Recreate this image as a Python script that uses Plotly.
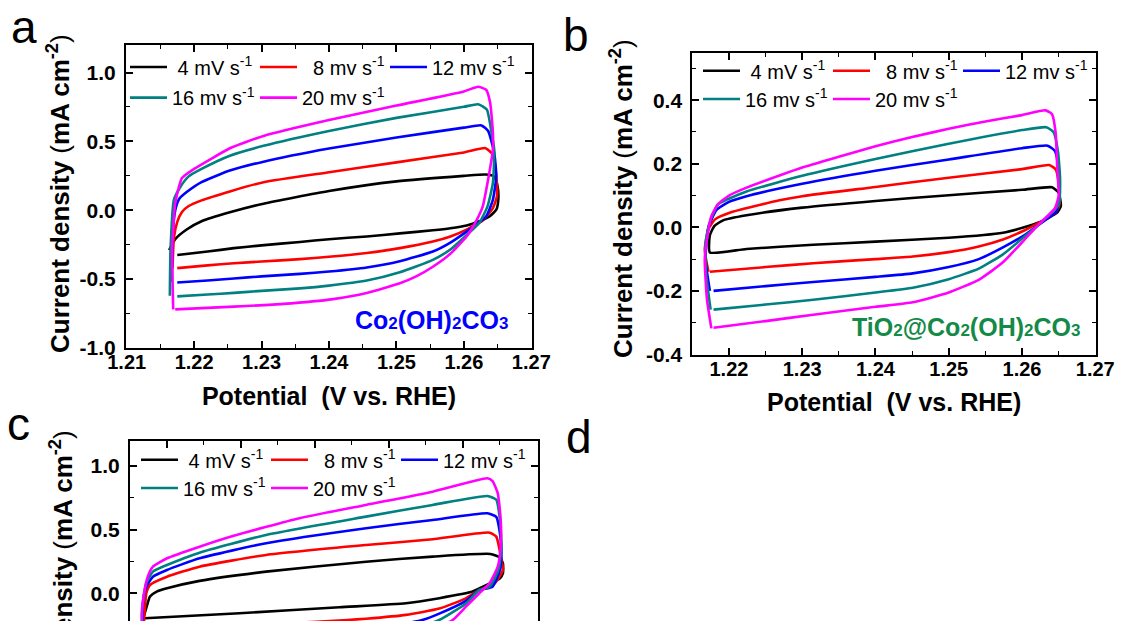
import plotly.graph_objects as go

W, H = 1122, 621

# ---------------- data (V vs RHE, mA cm^-2) ----------------
series_names = ["\u00a04 mV s<sup>-1</sup>", "\u00a0\u00a08 mv s<sup>-1</sup>", "12 mv s<sup>-1</sup>",
                "16 mv s<sup>-1</sup>", "20 mv s<sup>-1</sup>"]
series_colors = ["#000000", "#FF0000", "#0000FF", "#008080", "#FF00FF"]

# Panel a: Co2(OH)2CO3
A4_V = [1.2163, 1.2172, 1.2189, 1.2211, 1.2253, 1.2303, 1.2400, 1.2500, 1.2600, 1.2632, 1.2645, 1.2650, 1.2651, 1.2648,
        1.2638, 1.2620, 1.2604, 1.2580, 1.2554, 1.2505, 1.2456, 1.2400, 1.2357, 1.2300, 1.2259, 1.2220, 1.2175]
A4_J = [-0.29, -0.21, -0.14, -0.08, -0.015, 0.048, 0.14, 0.21, 0.25, 0.26, 0.246, 0.173, 0.076, 0.004,
        -0.045, -0.085, -0.11, -0.13, -0.145, -0.168, -0.19, -0.21, -0.23, -0.255, -0.275, -0.30, -0.325]
A8_V = [1.2168, 1.2170, 1.2175, 1.2182, 1.2192, 1.2211, 1.2253, 1.2303, 1.2400, 1.2500, 1.2600, 1.2632, 1.2643, 1.2648,
        1.2649, 1.2643, 1.2628, 1.2613, 1.2604, 1.2580, 1.2554, 1.2505, 1.2456, 1.2400, 1.2357, 1.2300, 1.2259,
        1.2220, 1.2175]
A8_J = [-0.42, -0.20, -0.084, -0.012, 0.031, 0.072, 0.137, 0.204, 0.276, 0.348, 0.420, 0.451, 0.404, 0.246,
        0.10, 0.016, -0.075, -0.115, -0.14, -0.19, -0.227, -0.275, -0.31, -0.338, -0.355, -0.372, -0.385,
        -0.40, -0.42]
A12_V = [1.2167, 1.2168, 1.2172, 1.2178, 1.2189, 1.2211, 1.2253, 1.2303, 1.2400, 1.2500, 1.2600, 1.2626, 1.2636, 1.2645,
         1.2648, 1.2643, 1.2633, 1.2618, 1.2604, 1.2580, 1.2554, 1.2505, 1.2456, 1.2400, 1.2357, 1.2300, 1.2259,
         1.2220, 1.2175]
A12_J = [-0.52, -0.20, 0.0, 0.084, 0.132, 0.204, 0.288, 0.353, 0.448, 0.528, 0.600, 0.616, 0.576, 0.416,
         0.246, 0.076, -0.045, -0.105, -0.155, -0.235, -0.30, -0.37, -0.415, -0.445, -0.462, -0.48, -0.495,
         -0.51, -0.525]
A16_V = [1.2164, 1.2165, 1.2170, 1.2180, 1.2192, 1.2211, 1.2253, 1.2303, 1.2400, 1.2500, 1.2600, 1.2621, 1.2634, 1.2641,
         1.2645, 1.2643, 1.2635, 1.2623, 1.2604, 1.2580, 1.2554, 1.2505, 1.2456, 1.2400, 1.2357, 1.2300, 1.2259,
         1.2220, 1.2175]
A16_J = [-0.62, -0.29, 0.076, 0.173, 0.246, 0.300, 0.396, 0.468, 0.576, 0.671, 0.751, 0.770, 0.731, 0.564,
         0.44, 0.198, 0.028, -0.09, -0.18, -0.285, -0.36, -0.45, -0.51, -0.547, -0.567, -0.585, -0.600,
         -0.612, -0.625]
A20_V = [1.2169, 1.21675, 1.2172, 1.2182, 1.2200, 1.2224, 1.2253, 1.2303, 1.2400, 1.2500, 1.2600, 1.2621, 1.2633, 1.2639,
         1.2643, 1.2643, 1.2635, 1.2628, 1.2618, 1.2604, 1.2579, 1.2554, 1.2530, 1.2505, 1.2456, 1.2406, 1.2332,
         1.2259, 1.2172]
A20_J = [-0.72, -0.287, 0.052, 0.234, 0.30, 0.37, 0.45, 0.54, 0.655, 0.760, 0.863, 0.897, 0.875, 0.779,
         0.564, 0.44, 0.198, 0.028, -0.08, -0.19, -0.32, -0.41, -0.478, -0.53, -0.600, -0.645, -0.68,
         -0.70, -0.72]

# Panel b: TiO2@Co2(OH)2CO3
B4_V = [1.2174, 1.2174, 1.2180, 1.2192, 1.2224, 1.2300, 1.2400, 1.2500, 1.2600, 1.2641, 1.2650, 1.2653, 1.2648,
        1.2623, 1.2603, 1.2574, 1.2500, 1.2400, 1.2315, 1.2224, 1.2174]
B4_J = [-0.079, -0.025, 0.004, 0.022, 0.038, 0.062, 0.083, 0.101, 0.118, 0.126, 0.109, 0.067, 0.046,
        0.015, 0.0, -0.017, -0.033, -0.045, -0.055, -0.068, -0.079]
B8_V = [1.2172, 1.2167, 1.2172, 1.2181, 1.2201, 1.2269, 1.2300, 1.2400, 1.2500, 1.2600, 1.2637, 1.2646, 1.2650,
        1.2651, 1.2646, 1.2619, 1.2603, 1.2574, 1.2541, 1.2500, 1.2451, 1.2400, 1.2315, 1.2250, 1.2174]
B8_J = [-0.140, -0.07, -0.006, 0.025, 0.046, 0.085, 0.098, 0.127, 0.156, 0.183, 0.196, 0.182, 0.14,
        0.07, 0.046, 0.009, -0.01, -0.038, -0.06, -0.078, -0.092, -0.10, -0.113, -0.125, -0.140]
B12_V = [1.2174, 1.2168, 1.2172, 1.2183, 1.2200, 1.2224, 1.2300, 1.2400, 1.2500, 1.2600, 1.2635, 1.2645, 1.2650,
         1.2651, 1.2647, 1.2621, 1.2603, 1.2574, 1.2541, 1.2500, 1.2451, 1.2400, 1.2315, 1.2250, 1.2179]
B12_J = [-0.200, -0.10, 0.0, 0.055, 0.080, 0.098, 0.137, 0.178, 0.2135, 0.249, 0.257, 0.24, 0.18,
         0.10, 0.05, 0.005, -0.025, -0.063, -0.10, -0.125, -0.145, -0.156, -0.172, -0.185, -0.200]
B16_V = [1.2175, 1.2169, 1.2168, 1.2173, 1.2185, 1.2200, 1.2224, 1.2300, 1.2400, 1.2500, 1.2600, 1.2633, 1.2643,
         1.2649, 1.2652, 1.2650, 1.2621, 1.2603, 1.2574, 1.2541, 1.2500, 1.2451, 1.2400, 1.2315, 1.2250, 1.2179]
B16_J = [-0.259, -0.15, -0.05, 0.01, 0.072, 0.09, 0.113, 0.162, 0.215, 0.263, 0.306, 0.315, 0.30,
         0.24, 0.15, 0.07, 0.005, -0.03, -0.085, -0.13, -0.163, -0.19, -0.205, -0.228, -0.243, -0.259]
B20_V = [1.2176, 1.2170, 1.2167, 1.2170, 1.2176, 1.2185, 1.2200, 1.2224, 1.2269, 1.2300, 1.2350, 1.2400, 1.2450,
         1.2500, 1.2550, 1.2600, 1.2632, 1.2641, 1.2646, 1.2648, 1.2650, 1.2645, 1.2621, 1.2603, 1.2574, 1.2541,
         1.2500, 1.2451, 1.2400, 1.2315, 1.2250, 1.2179]
B20_J = [-0.318, -0.226, -0.10, -0.038, 0.035, 0.072, 0.10, 0.125, 0.163, 0.188, 0.222, 0.255, 0.284,
         0.31, 0.333, 0.353, 0.368, 0.356, 0.296, 0.192, 0.10, 0.06, 0.005, -0.04, -0.11, -0.165,
         -0.205, -0.236, -0.25, -0.275, -0.295, -0.316]

# Panel c
C4_V = [1.2168, 1.21725, 1.2177, 1.2186, 1.2200, 1.2244, 1.2334, 1.2469, 1.2559, 1.2637, 1.2650, 1.2654, 1.2654,
        1.2650, 1.2627, 1.2613, 1.2568, 1.2523, 1.2433, 1.2298, 1.2170]
C4_J = [-0.196, -0.105, -0.026, 0.013, 0.039, 0.097, 0.170, 0.248, 0.288, 0.309, 0.28, 0.236, 0.157,
        0.118, 0.052, 0.013, -0.039, -0.079, -0.11, -0.157, -0.196]
C8_V = [1.2172, 1.2169, 1.2170, 1.2172, 1.2177, 1.2200, 1.2244, 1.2334, 1.2469, 1.2559, 1.2636, 1.2645, 1.2652,
        1.2654, 1.2643, 1.2622, 1.2604, 1.2568, 1.2523, 1.2469, 1.2444, 1.2350, 1.2250, 1.2172]
C8_J = [-0.29, -0.21, -0.131, 0.0, 0.065, 0.13, 0.209, 0.301, 0.379, 0.424, 0.476, 0.445, 0.262,
        0.183, 0.079, 0.026, -0.04, -0.12, -0.17, -0.20, -0.21, -0.24, -0.27, -0.29]
C12_V = [1.2170, 1.2167, 1.2168, 1.2172, 1.2181, 1.2200, 1.2244, 1.2334, 1.2469, 1.2559, 1.2633, 1.2645, 1.2650,
         1.2652, 1.2650, 1.2640, 1.2622, 1.2604, 1.2568, 1.2545, 1.2480, 1.2350, 1.2172]
C12_J = [-0.38, -0.2, -0.05, 0.05, 0.13, 0.183, 0.275, 0.393, 0.511, 0.576, 0.628, 0.60, 0.471,
         0.314, 0.183, 0.052, 0.026, -0.06, -0.16, -0.21, -0.28, -0.33, -0.38]
C16_V = [1.2170, 1.2166, 1.2168, 1.2172, 1.2181, 1.2200, 1.2244, 1.2334, 1.2469, 1.2559, 1.2633, 1.2645, 1.2650,
         1.2652, 1.2648, 1.2636, 1.2622, 1.2604, 1.2568, 1.2520, 1.2400, 1.2172]
C16_J = [-0.45, -0.2, -0.05, 0.08, 0.170, 0.222, 0.319, 0.458, 0.602, 0.694, 0.764, 0.735, 0.576,
         0.366, 0.183, 0.052, 0.026, -0.08, -0.21, -0.30, -0.38, -0.45]
C20_V = [1.2170, 1.2166, 1.2169, 1.2174, 1.2181, 1.2200, 1.2244, 1.2289, 1.2379, 1.2469, 1.2559, 1.2633, 1.2640,
         1.2647, 1.2651, 1.2651, 1.2647, 1.2636, 1.2622, 1.2604, 1.2586, 1.2530, 1.2400, 1.2172]
C20_J = [-0.53, -0.157, 0.0, 0.13, 0.209, 0.275, 0.366, 0.450, 0.589, 0.694, 0.798, 0.903, 0.88,
         0.786, 0.576, 0.366, 0.209, 0.079, 0.0, -0.105, -0.21, -0.35, -0.46, -0.53]

A_V = [A4_V, A8_V, A12_V, A16_V, A20_V]
A_J = [A4_J, A8_J, A12_J, A16_J, A20_J]
B_V = [B4_V, B8_V, B12_V, B16_V, B20_V]
B_J = [B4_J, B8_J, B12_J, B16_J, B20_J]
C_V = [C4_V, C8_V, C12_V, C16_V, C20_V]
C_J = [C4_J, C8_J, C12_J, C16_J, C20_J]

x_ticks = [1.21, 1.22, 1.23, 1.24, 1.25, 1.26, 1.27]
x_ticktext = ["1.21", "1.22", "1.23", "1.24", "1.25", "1.26", "1.27"]
ya_ticks = [-1.0, -0.5, 0.0, 0.5, 1.0]
ya_ticktext = ["-1.0", "-0.5", "0.0", "0.5", "1.0"]
yb_ticks = [-0.4, -0.2, 0.0, 0.2, 0.4]
yb_ticktext = ["-0.4", "-0.2", "0.0", "0.2", "0.4"]

# ---------------- figure ----------------
FONT = "Liberation Sans, Arial, sans-serif"
fig = go.Figure()

def px_x(p):
    return p / W

def px_y(p):
    return 1 - p / H

panels = [("x", "y", A_V, A_J, ("legend", "legend2")),
          ("x2", "y2", B_V, B_J, ("legend3", "legend4")),
          ("x3", "y3", C_V, C_J, ("legend5", "legend6"))]
for xa, ya, VV, JJ, legs in panels:
    for i in range(5):
        fig.add_trace(go.Scatter(
            x=VV[i], y=JJ[i], mode="lines", name=series_names[i], xaxis=xa, yaxis=ya,
            line=dict(color=series_colors[i], width=2.6, shape="spline", smoothing=0.5),
            legend=legs[0] if i < 3 else legs[1], hoverinfo="skip"))

xtickfont = dict(family=FONT, size=20, color="black", weight="bold")
ytickfont = dict(family=FONT, size=21, color="black", weight="bold")
titlefont = dict(family=FONT, size=26, color="black")
xtitlefont = dict(family=FONT, size=25, color="black")

def xaxis(dom, rng, anchor, show_labels=True, side="bottom"):
    return dict(domain=dom, range=rng, anchor=anchor, side=side, automargin=False,
                showline=True, linecolor="black", linewidth=2, mirror="allticks",
                ticks="inside", ticklen=7, tickwidth=1.6, tickcolor="black",
                tickvals=x_ticks, ticktext=x_ticktext, showticklabels=show_labels,
                tickfont=xtickfont, showgrid=False, zeroline=False, ticklabelstandoff=-5,
                minor=dict(ticks="inside", ticklen=4, tickwidth=1.4, tickcolor="black", dtick=0.005,
                           tick0=1.21, showgrid=False))

def yaxis(dom, rng, anchor, tv, tt, mdt):
    return dict(domain=dom, range=rng, anchor=anchor, automargin=False,
                showline=True, linecolor="black", linewidth=2, mirror="allticks",
                ticks="inside", ticklen=7, tickwidth=1.6, tickcolor="black",
                tickvals=tv, ticktext=tt, tickfont=ytickfont, showgrid=False, zeroline=False,
                ticklabelstandoff=4,
                minor=dict(ticks="inside", ticklen=4, tickwidth=1.4, tickcolor="black", dtick=mdt,
                           tick0=0, showgrid=False))

ytitle = "<b>Current density </b>(<b>mA cm<sup>-2</sup></b>)"
xtitle = "<b>Potential  (V vs. RHE)</b>"

xa = xaxis([px_x(126), px_x(532)], [1.2099, 1.2701], "y")
xa["title"] = dict(text=xtitle, font=xtitlefont, standoff=15)
xb = xaxis([px_x(692.3), px_x(1096)], [1.215, 1.2701], "y2")
xb["title"] = dict(text=xtitle, font=xtitlefont, standoff=15)
xc = xaxis([px_x(130), px_x(537.7)], [1.215, 1.2701], "y3", show_labels=False, side="top")
xc["mirror"] = False

ya = yaxis([px_y(348), px_y(45)], [-1.0001, 1.2], "x", ya_ticks, ya_ticktext, 0.25)
yb = yaxis([px_y(354.5), px_y(52.5)], [-0.4001, 0.55], "x2", yb_ticks, yb_ticktext, 0.1)
yc = yaxis([0, px_y(440.5)], [-0.218, 1.2], "x3", ya_ticks, ya_ticktext, 0.25)

def legend(xp, yp):
    return dict(orientation="h", x=px_x(xp), y=px_y(yp), xanchor="left", yanchor="middle",
                font=dict(family=FONT, size=20, color="black"), bgcolor="rgba(0,0,0,0)",
                itemwidth=37, entrywidth=78, entrywidthmode="pixels", itemclick=False,
                tracegroupgap=0)

fig.update_layout(
    width=W, height=H, margin=dict(l=0, r=0, t=0, b=0, autoexpand=False),
    paper_bgcolor="white", plot_bgcolor="white",
    xaxis=xa, yaxis=ya, xaxis2=xb, yaxis2=yb, xaxis3=xc, yaxis3=yc,
    legend=legend(125, 67), legend2=legend(125, 97.6),
    legend3=legend(698, 70.7), legend4=legend(698, 99),
    legend5=legend(136, 459.7), legend6=legend(136, 488),
    showlegend=True,
)

sub = "<span style='font-size:17px'>2</span>"
sub3 = "<span style='font-size:17px'>3</span>"
annots = [
    dict(text="a", x=px_x(24), y=px_y(27), font=dict(family=FONT, size=46, color="black")),
    dict(text="b", x=px_x(576), y=px_y(35), font=dict(family=FONT, size=46, color="black")),
    dict(text="c", x=px_x(18), y=px_y(424), font=dict(family=FONT, size=46, color="black")),
    dict(text="d", x=px_x(579), y=px_y(437), font=dict(family=FONT, size=46, color="black")),
    dict(text="<b>Co" + sub + "(OH)" + sub + "CO" + sub3 + "</b>", x=px_x(431), y=px_y(320),
         font=dict(family=FONT, size=25, color="#0000FF")),
    dict(text="<b>TiO" + sub + "@Co" + sub + "(OH)" + sub + "CO" + sub3 + "</b>", x=px_x(966), y=px_y(327),
         font=dict(family=FONT, size=25, color="#138A47")),
    dict(text=ytitle, x=px_x(58), y=px_y(194), textangle=-90, font=titlefont),
    dict(text=ytitle, x=px_x(621), y=px_y(199), textangle=-90, font=titlefont),
    dict(text=ytitle, x=px_x(61), y=px_y(590), textangle=-90, font=titlefont),
]
for a in annots:
    a.update(xref="paper", yref="paper", showarrow=False, xanchor="center", yanchor="middle")
fig.update_layout(annotations=annots)

fig.write_html("out.html")
